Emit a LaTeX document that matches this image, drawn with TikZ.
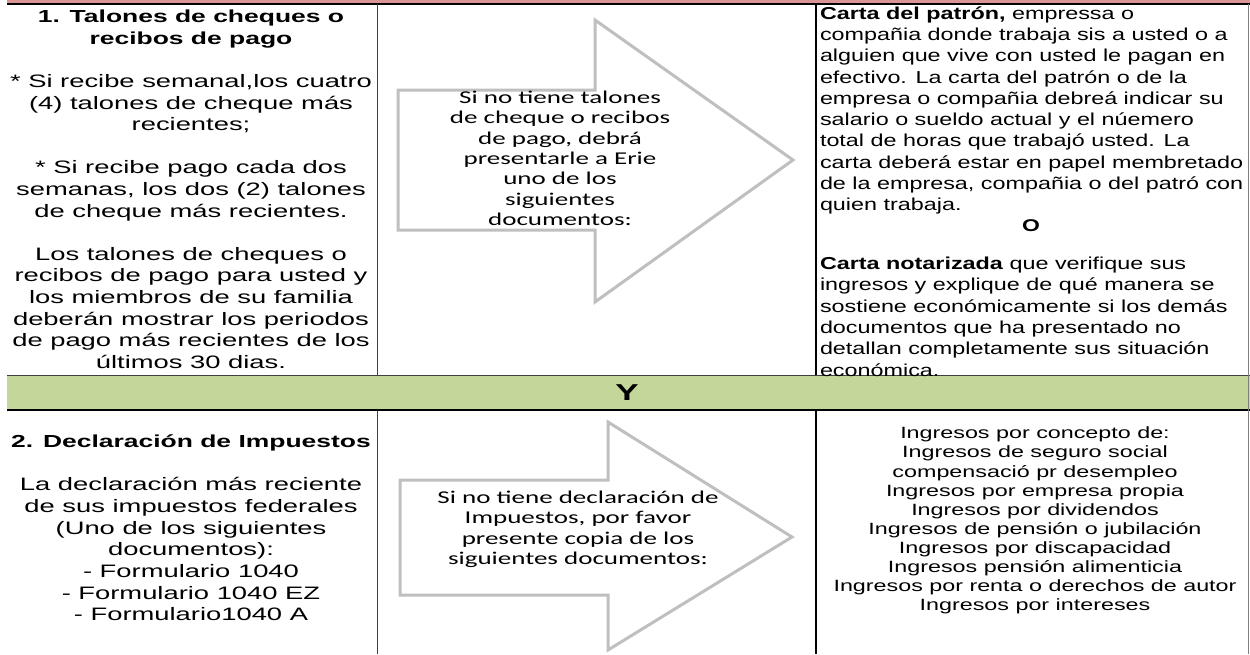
\documentclass[tikz,border=0pt]{standalone}
\usepackage{fontspec}
\setmainfont{Liberation Sans}
\newfontfamily\leftf{Liberation Sans}[FakeStretch=1.52]
\newfontfamily\rightf{Liberation Sans}[FakeStretch=1.35]
\newfontfamily\incf{Liberation Sans}[FakeStretch=1.43]
\newfontfamily\arrf{Carlito}[FakeStretch=1.5]
\definecolor{topband}{HTML}{D99694}
\definecolor{greenband}{HTML}{C4D79B}
\definecolor{arrowgray}{HTML}{BFBFBF}
\definecolor{gridgray}{HTML}{404040}
\begin{document}
\begin{tikzpicture}[x=1pt,y=-1pt,
  every node/.style={inner sep=0pt,outer sep=0pt},
  lefttxt/.style={align=center,font=\leftf\fontsize{18}{21.6}\selectfont,anchor=north},
  leftbtxt/.style={align=center,font=\leftf\fontsize{18}{21.7}\selectfont,anchor=north},
  righttxt/.style={align=left,font=\rightf\fontsize{17.3}{21.3}\selectfont,anchor=north west},
  incometxt/.style={align=center,font=\incf\fontsize{16.3}{19.1}\selectfont,anchor=north},
  arrowtxt/.style={align=center,font=\arrf\fontsize{18}{20.3}\selectfont,anchor=north},
  bigarrow/.style={draw=arrowgray,line width=3pt,fill=white,line join=miter},
  thinrule/.style={draw=gridgray,line width=1pt},
  thickrule/.style={draw=black,line width=2pt}]
\useasboundingbox (0,0) rectangle (1250,654);
% bands
\fill[topband] (7,0) rectangle (1250,3.5);
\draw[thickrule] (7,3.5) -- (1250,3.5);
\fill[greenband] (7,375) rectangle (1250,410);
\draw[thinrule] (7,375) -- (1250,375);
\draw[thickrule] (7,410) -- (1250,410);
% column rules
\draw[thinrule] (377,4) -- (377,375);
\draw[thinrule] (377,411) -- (377,654);
\draw[thickrule] (816,4) -- (816,375);
\draw[thickrule] (816,411) -- (816,654);
\draw[draw=gray,line width=1pt] (1248.5,4) -- (1248.5,654);
% arrows
\draw[bigarrow] (398,90) -- (595,90) -- (595,20) -- (793,160) -- (595,302) -- (595,230) -- (398,230) -- cycle;
\draw[bigarrow] (400,480) -- (608,480) -- (608,422) -- (792,537) -- (608,650) -- (608,595) -- (400,595) -- cycle;
% left column top
\node[lefttxt] (t1) at (191,10) {\fontsize{17.4}{21.6}\selectfont\bfseries 1. Talones de cheques o\\\fontsize{17.4}{21.6}\selectfont\bfseries recibos de pago\\[21.6pt]
* Si recibe semanal,los cuatro\\(4) talones de cheque más\\recientes;\\[21.6pt]
* Si recibe pago cada dos\\semanas, los dos (2) talones\\de cheque más recientes.\\[21.6pt]
Los talones de cheques o\\recibos de pago para usted y\\los miembros de su familia\\deberán mostrar los periodos\\de pago más recientes de los\\últimos 30 dias.};
% arrow 1 text
\node[arrowtxt] (a1) at (560,91) {Si no tiene talones\\de cheque o recibos\\de pago, debrá\\presentarle a Erie\\uno de los\\siguientes\\documentos:};
% right column top
\node[righttxt] (r1) at (820,6.5) {\textbf{Carta del patrón,} empressa o\\compañia donde trabaja sis a usted o a\\alguien que vive con usted le pagan en\\efectivo. La carta del patrón o de la\\empresa o compañia debreá indicar su\\salario o sueldo actual y el núemero\\total de horas que trabajó usted. La\\carta deberá estar en papel membretado\\de la empresa, compañia o del patró con\\quien trabaja.};
\node[font=\rightf\fontsize{17}{17}\selectfont\bfseries] (o) at (1031,226) {O};
\node[righttxt] (r2) at (820,257) {\textbf{Carta notarizada} que verifique sus\\ingresos y explique de qué manera se\\sostiene económicamente si los demás\\documentos que ha presentado no\\detallan completamente sus situación\\económica.};
% Y
\node[font=\leftf\fontsize{23}{23}\selectfont\bfseries] (y) at (627,393) {Y};
% left column bottom
\node[leftbtxt] (t2) at (191,434.5) {\fontsize{17.4}{21.7}\selectfont\bfseries 2. Declaración de Impuestos\\[21.7pt]
La declaración más reciente\\de sus impuestos federales\\(Uno de los siguientes\\documentos):\\- Formulario 1040\\- Formulario 1040 EZ\\- Formulario1040 A};
% arrow 2 text
\node[arrowtxt] (a2) at (578,491) {Si no tiene declaración de\\Impuestos, por favor\\presente copia de los\\siguientes documentos:};
% right column bottom
\node[incometxt] (r3) at (1035,427) {Ingresos por concepto de:\\Ingresos de seguro social\\compensació pr desempleo\\Ingresos por empresa propia\\Ingresos por dividendos\\Ingresos de pensión o jubilación\\Ingresos por discapacidad\\Ingresos pensión alimenticia\\Ingresos por renta o derechos de autor\\Ingresos por intereses};
\end{tikzpicture}
\end{document}
